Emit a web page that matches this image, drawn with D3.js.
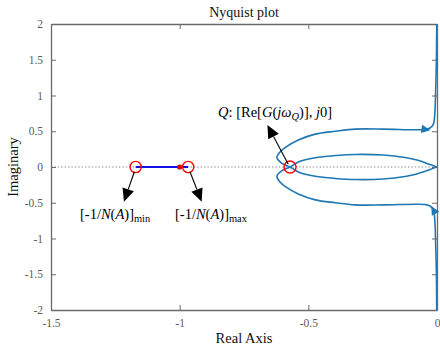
<!DOCTYPE html>
<html>
<head>
<meta charset="utf-8">
<script src="https://cdn.jsdelivr.net/npm/d3@7"></script>
<style>
  body { margin: 0; background: #fff; }
  svg { display: block; font-family: "Liberation Serif", "Times New Roman", serif; }
  svg text { font-family: "Liberation Serif", "Times New Roman", serif; }
</style>
</head>
<body>
<svg id="chart" width="440" height="351"></svg>
<script>
// Axis limits and ticks
const xDomain = [-1.5, 0];
const yDomain = [-2, 2];
const xTicks = [-1.5, -1, -0.5, 0];
const xTickLabels = ["-1.5", "-1", "-0.5", "0"];
const yTicks = [-2, -1.5, -1, -0.5, 0, 0.5, 1, 1.5, 2];
const yTickLabels = ["-2", "-1.5", "-1", "-0.5", "0", "0.5", "1", "1.5", "2"];

// G(jw) for w from 0+ to +inf (real / imaginary parts)
const branchRe = [-0.001, -0.002, -0.005, -0.008, -0.014, -0.027, -0.047, -0.079, -0.209, -0.318, -0.395, -0.473,
                  -0.539, -0.589, -0.610, -0.622, -0.604, -0.571, -0.537, -0.473, -0.395, -0.318, -0.209, -0.124,
                  -0.078, -0.027, 0];
const branchIm = [-2.3, -1.57, -1.1, -0.78, -0.60, -0.545, -0.525, -0.52, -0.53, -0.53, -0.50, -0.46,
                  -0.378, -0.275, -0.21, -0.13, -0.055, 0, 0.074, 0.13, 0.16, 0.175, 0.167, 0.132,
                  0.097, 0.035, 0];

// Direction markers on the Nyquist contour
const markerRe = [-0.043, -0.014];
const markerIm = [0.525, -0.60];

// Describing-function locus -1/N(A)
const locusRe = [-1.171, -0.967];
const criticalRe = -1.0;
const qRe = -0.571;

// Annotation arrows: start / tip in data coordinates
const arrowStartRe = [-1.176, -0.960, -0.578];
const arrowStartIm = [-0.066, -0.066, 0.038];
const arrowTipRe = [-1.2165, -0.9145, -0.659];
const arrowTipIm = [-0.485, -0.485, 0.587];

const svg = d3.select("#chart");
const plotLeft = 51, plotRight = 437, plotTop = 24, plotBottom = 310;
const x = d3.scaleLinear().domain(xDomain).range([plotLeft, plotRight]);
const y = d3.scaleLinear().domain(yDomain).range([plotBottom, plotTop]);

const axisColor = "#6a6a6a";
const tickTextColor = "#5c5c5c";
const curveColor = "#1f77b4";
const serif = "'Liberation Serif', 'Times New Roman', serif";

svg.append("defs").append("clipPath").attr("id", "plotClip")
  .append("rect").attr("x", plotLeft).attr("y", plotTop)
  .attr("width", plotRight - plotLeft).attr("height", plotBottom - plotTop);

// Zero line (dotted)
svg.append("line")
  .attr("x1", x(xDomain[0])).attr("x2", x(xDomain[1]))
  .attr("y1", y(0)).attr("y2", y(0))
  .attr("stroke", "#8a8a8a").attr("stroke-width", 1.2)
  .attr("stroke-dasharray", "1.4 2");

// Axes box with inward ticks on all sides
const tickLen = 5;
const gx = svg.append("g").attr("transform", `translate(0,${plotBottom})`)
  .call(d3.axisBottom(x).tickValues(xTicks).tickFormat((d, i) => xTickLabels[i]).tickSizeInner(-tickLen).tickSizeOuter(0).tickPadding(9));
const gxt = svg.append("g").attr("transform", `translate(0,${plotTop})`)
  .call(d3.axisTop(x).tickValues(xTicks).tickFormat("").tickSizeInner(-tickLen).tickSizeOuter(0));
const gy = svg.append("g").attr("transform", `translate(${plotLeft},0)`)
  .call(d3.axisLeft(y).tickValues(yTicks).tickFormat((d, i) => yTickLabels[i]).tickSizeInner(-tickLen).tickSizeOuter(0).tickPadding(8));
const gyr = svg.append("g").attr("transform", `translate(${plotRight},0)`)
  .call(d3.axisRight(y).tickValues(yTicks).tickFormat("").tickSizeInner(-tickLen).tickSizeOuter(0));
[gx, gxt, gy, gyr].forEach(g => {
  g.attr("font-family", serif).style("font-family", serif);
  g.select(".domain").attr("stroke", axisColor).attr("stroke-width", 1.3);
  g.selectAll(".tick line").attr("stroke", axisColor).attr("stroke-width", 1);
  g.selectAll("text").attr("fill", tickTextColor).attr("font-size", 11.5).style("font-family", serif);
});

// Nyquist contour: positive-frequency branch and its conjugate
const pos = branchRe.map((r, i) => [r, branchIm[i]]);
const neg = pos.map(([r, im]) => [r, -im]);
const line = d3.line().x(d => x(d[0])).y(d => y(d[1])).curve(d3.curveCatmullRom.alpha(0.5));
const curveG = svg.append("g").attr("clip-path", "url(#plotClip)");
[pos, neg].forEach(b => {
  curveG.append("path").attr("d", line(b))
    .attr("fill", "none").attr("stroke", curveColor).attr("stroke-width", 1.6);
});

// Direction arrows on the contour
function triangle(cx, cy, angle, len, halfW) {
  const ca = Math.cos(angle), sa = Math.sin(angle);
  const tip = [cx + ca * len / 2, cy + sa * len / 2];
  const bx = cx - ca * len / 2, by = cy - sa * len / 2;
  const p1 = [bx - sa * halfW, by + ca * halfW];
  const p2 = [bx + sa * halfW, by - ca * halfW];
  return [tip, p1, p2];
}
const markerAngles = [0.15, -Math.PI / 2 - 0.5];
markerRe.forEach((r, i) => {
  const pts = triangle(x(r), y(markerIm[i]), markerAngles[i], 9, 4.2);
  svg.append("polygon").attr("points", pts.map(p => p.join(",")).join(" "))
    .attr("fill", curveColor);
});

// Describing-function locus and critical point
svg.append("line")
  .attr("x1", x(locusRe[0])).attr("x2", x(locusRe[1]))
  .attr("y1", y(0)).attr("y2", y(0))
  .attr("stroke", "#1010e0").attr("stroke-width", 2);
svg.append("circle").attr("cx", x(criticalRe)).attr("cy", y(0)).attr("r", 2.6).attr("fill", "#e00000");

// Red markers at the locus ends and at Q
[locusRe[0], locusRe[1], qRe].forEach((r, i) => {
  svg.append("circle").attr("cx", x(r)).attr("cy", y(0)).attr("r", i === 2 ? 6 : 5.6)
    .attr("fill", "none").attr("stroke", "#ff0000").attr("stroke-width", 1.4);
});

// Annotation arrows
arrowStartRe.forEach((r, i) => {
  const x1 = x(r), y1 = y(arrowStartIm[i]);
  const x2 = x(arrowTipRe[i]), y2 = y(arrowTipIm[i]);
  const ang = Math.atan2(y2 - y1, x2 - x1);
  const headLen = 13, headW = 6;
  const bx = x2 - Math.cos(ang) * headLen, by = y2 - Math.sin(ang) * headLen;
  svg.append("line").attr("x1", x1).attr("y1", y1).attr("x2", bx).attr("y2", by)
    .attr("stroke", "#000").attr("stroke-width", 1.1);
  const p1 = [bx - Math.sin(ang) * headW, by + Math.cos(ang) * headW];
  const p2 = [bx + Math.sin(ang) * headW, by - Math.cos(ang) * headW];
  svg.append("polygon").attr("points", [[x2, y2], p1, p2].map(p => p.join(",")).join(" ")).attr("fill", "#000");
});

// Text labels
function richText(tx, ty, parts, size) {
  const t = svg.append("text").attr("x", tx).attr("y", ty).attr("font-size", size).attr("fill", "#000");
  parts.forEach(p => {
    const s = t.append("tspan").text(p.t);
    if (p.i) s.attr("font-style", "italic");
    if (p.sub) s.attr("font-size", size * 0.72).attr("dy", 3);
    if (p.up) s.attr("dy", -3);
  });
  return t;
}
richText(80, 219, [{t: "[-1/"}, {t: "N", i: 1}, {t: "("}, {t: "A", i: 1}, {t: ")]"}, {t: "min", sub: 1}], 14.5);
richText(175, 219, [{t: "[-1/"}, {t: "N", i: 1}, {t: "("}, {t: "A", i: 1}, {t: ")]"}, {t: "max", sub: 1}], 14.5);
richText(218, 117, [{t: "Q", i: 1}, {t: ": [Re["}, {t: "G", i: 1}, {t: "("}, {t: "jω", i: 1},
  {t: "Q", i: 1, sub: 1}, {t: ")], ", up: 1}, {t: "j", i: 1}, {t: "0]"}], 14.5);

// Titles
svg.append("text").attr("x", (plotLeft + plotRight) / 2).attr("y", 17).attr("text-anchor", "middle")
  .attr("font-size", 14).attr("fill", "#111").text("Nyquist plot");
svg.append("text").attr("x", (plotLeft + plotRight) / 2).attr("y", 343).attr("text-anchor", "middle")
  .attr("font-size", 14.5).attr("fill", "#111").text("Real Axis");
svg.append("text").attr("transform", `translate(18,${(plotTop + plotBottom) / 2}) rotate(-90)`)
  .attr("text-anchor", "middle").attr("font-size", 14.5).attr("fill", "#111").text("Imaginary");
</script>
</body>
</html>
